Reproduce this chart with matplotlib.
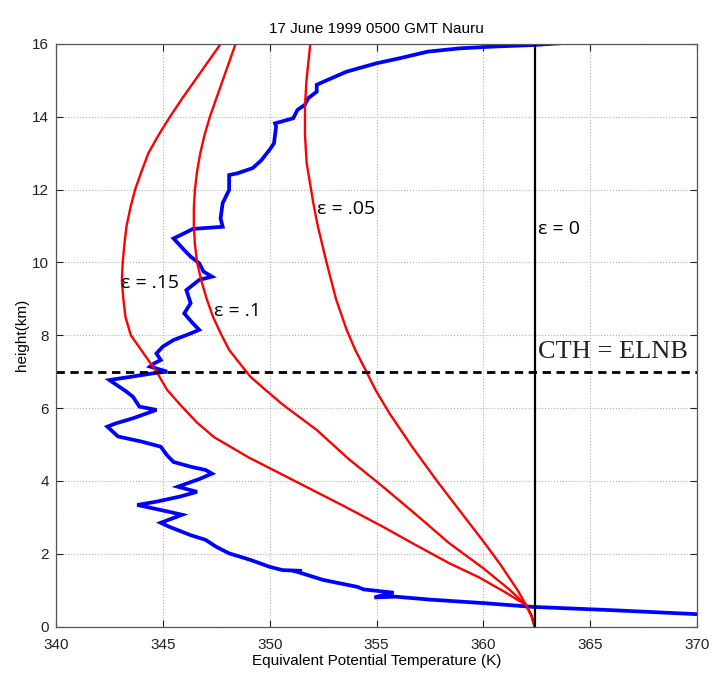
import numpy as np
import matplotlib
matplotlib.use('Agg')
import matplotlib.pyplot as plt

# sounding: equivalent potential temperature (K) vs height (km)
blue_theta = [370.0, 366.0, 362.3, 360.1, 357.5, 355.9, 354.9, 355.8, 354.4, 354.1,
              352.5, 351.3, 351.5, 350.6, 350.0, 349.1, 348.1, 347.5, 347.0, 346.3,
              345.3, 344.9, 345.9, 345.3, 343.8, 344.7, 345.8, 346.6, 345.7, 346.7,
              347.3, 347.0, 346.3, 345.5, 345.2, 344.9, 344.0, 342.9, 342.4, 342.8,
              343.6, 344.7, 343.9, 343.6, 343.3, 342.5, 343.5, 344.6, 345.2, 344.4,
              344.6, 344.9, 344.7, 345.0, 345.5, 346.3, 346.7, 346.4, 346.0, 346.3,
              346.1, 346.7, 347.3, 346.9, 346.7, 346.3, 346.0, 345.5, 346.0, 346.4,
              347.8, 347.7, 347.8, 348.1, 348.1, 348.1, 348.5, 349.2, 349.6, 350.0,
              350.2, 350.3, 350.25, 351.1, 351.3, 351.65, 351.8, 352.2, 352.2, 352.7,
              353.6, 355.0, 356.1, 357.4, 358.9, 360.5, 362.3, 363.6, 365.2]
blue_height = [0.34, 0.45, 0.54, 0.64, 0.74, 0.82, 0.80, 0.93, 1.02, 1.09,
               1.28, 1.50, 1.53, 1.55, 1.64, 1.83, 2.01, 2.19, 2.38, 2.51,
               2.74, 2.85, 3.07, 3.15, 3.34, 3.43, 3.57, 3.70, 3.84, 4.05,
               4.20, 4.30, 4.39, 4.52, 4.70, 4.94, 5.08, 5.22, 5.49, 5.58,
               5.72, 5.95, 6.04, 6.31, 6.45, 6.77, 6.86, 6.96, 7.00, 7.14,
               7.23, 7.32, 7.50, 7.69, 7.87, 8.05, 8.15, 8.33, 8.60, 8.88,
               9.24, 9.52, 9.61, 9.75, 9.98, 10.16, 10.34, 10.66, 10.80, 10.92,
               10.98, 11.21, 11.63, 11.99, 12.27, 12.40, 12.45, 12.59, 12.80, 13.10,
               13.27, 13.73, 13.82, 13.96, 14.19, 14.33, 14.51, 14.69, 14.88, 15.01,
               15.24, 15.47, 15.61, 15.79, 15.88, 15.93, 15.97, 16.02, 16.10]

# entraining plume curves
eps15_height = [0.0, 0.3, 0.59, 0.95, 1.35, 1.74, 2.25, 2.74, 3.3, 3.75,
                4.2, 4.65, 5.2, 5.6, 6.1, 6.5, 7.0, 7.5, 8.0, 8.5,
                9.0, 9.5, 10.0, 10.5, 11.0, 11.5, 12.0, 12.5, 13.0, 13.5,
                14.0, 14.5, 15.0, 15.5, 16.0]
eps15_theta = [362.4, 362.25, 362.0, 361.0, 359.8, 358.4, 356.8, 355.3, 353.5, 352.0,
               350.5, 349.0, 347.4, 346.6, 345.8, 345.2, 344.7, 344.1, 343.5, 343.25,
               343.15, 343.08, 343.12, 343.2, 343.3, 343.48, 343.7, 344.0, 344.32, 344.8,
               345.33, 345.9, 346.5, 347.1, 347.7]
eps10_height = [0.0, 0.3, 0.59, 1.0, 1.6, 2.29, 3.05, 3.84, 4.6, 5.4,
                6.1, 6.5, 6.86, 7.3, 7.6, 8.0, 8.5, 9.0, 9.5, 10.0,
                10.5, 11.0, 11.5, 12.0, 12.5, 13.0, 13.5, 14.0, 14.5, 15.0,
                15.5, 16.0]
eps10_theta = [362.4, 362.25, 362.0, 361.25, 360.0, 358.4, 356.9, 355.3, 353.7, 352.2,
               350.6, 349.8, 349.1, 348.5, 348.1, 347.75, 347.35, 347.05, 346.8, 346.6,
               346.5, 346.45, 346.45, 346.5, 346.6, 346.75, 346.95, 347.2, 347.5, 347.8,
               348.1, 348.4]
eps05_height = [0.0, 0.3, 0.59, 1.0, 1.7, 2.3, 3.1, 4.02, 4.95, 5.86,
                6.5, 7.03, 7.6, 8.15, 9.0, 10.0, 11.0, 11.63, 12.73, 13.5,
                14.28, 15.0, 16.0]
eps05_theta = [362.4, 362.25, 362.0, 361.6, 360.8, 360.05, 359.0, 357.8, 356.65, 355.6,
               354.95, 354.5, 354.0, 353.6, 353.1, 352.66, 352.25, 352.04, 351.73, 351.65,
               351.65, 351.72, 351.9]
eps0_theta = 362.4
cth_height = 7.0

fig = plt.figure(figsize=(7.12, 6.84), dpi=100)
ax = fig.add_axes([0.0787, 0.084, 0.9003, 0.8517])

ax.plot(blue_theta, blue_height, color='#0000ff', lw=2.7, solid_joinstyle='miter')
for th, h in [(eps15_theta, eps15_height), (eps10_theta, eps10_height),
              (eps05_theta, eps05_height)]:
    ax.plot(th, h, color='#ff0000', lw=1.7)
ax.axvline(eps0_theta, color='black', lw=1.6)
ax.axhline(cth_height, color='black', lw=2.0, ls=(0, (3, 2)))

ax.set_xlim(340, 370)
ax.set_ylim(0, 16)
ax.set_xticks(np.arange(340, 371, 5))
ax.set_yticks(np.arange(0, 17, 2))
ax.tick_params(direction='in', top=True, right=True, length=5, width=0.8,
               labelsize=11, colors='#222222')
ax.tick_params(axis='x', pad=8)
ax.tick_params(axis='y', pad=5)
for lab in ax.get_xticklabels() + ax.get_yticklabels():
    lab.set_family('Liberation Sans')
ax.grid(True, linestyle=':', color='#b0b0b0', linewidth=0.8)
for s in ax.spines.values():
    s.set_color('#555555')
    s.set_linewidth(0.9)

ax.set_title('17 June 1999 0500 GMT Nauru', fontsize=11, family='Liberation Sans', pad=8)
ax.set_xlabel('Equivalent Potential Temperature (K)', fontsize=11, family='Liberation Sans',
              labelpad=2)
ax.set_ylabel('height(km)', fontsize=11, family='Liberation Sans', labelpad=2)

lab_kw = dict(fontsize=14, family='Open Sans', va='center', ha='left')
ax.text(343.05, 9.44, 'ε = .15', **lab_kw)
ax.text(347.4, 8.67, 'ε = .1', **lab_kw)
ax.text(352.2, 11.47, 'ε = .05', **lab_kw)
ax.text(362.55, 10.92, 'ε = 0', **lab_kw)
ax.text(362.55, 7.55, 'CTH = ELNB', fontsize=19, family='Liberation Serif',
        va='center', ha='left', color='#222222')

fig.savefig('out.png', dpi=100)
